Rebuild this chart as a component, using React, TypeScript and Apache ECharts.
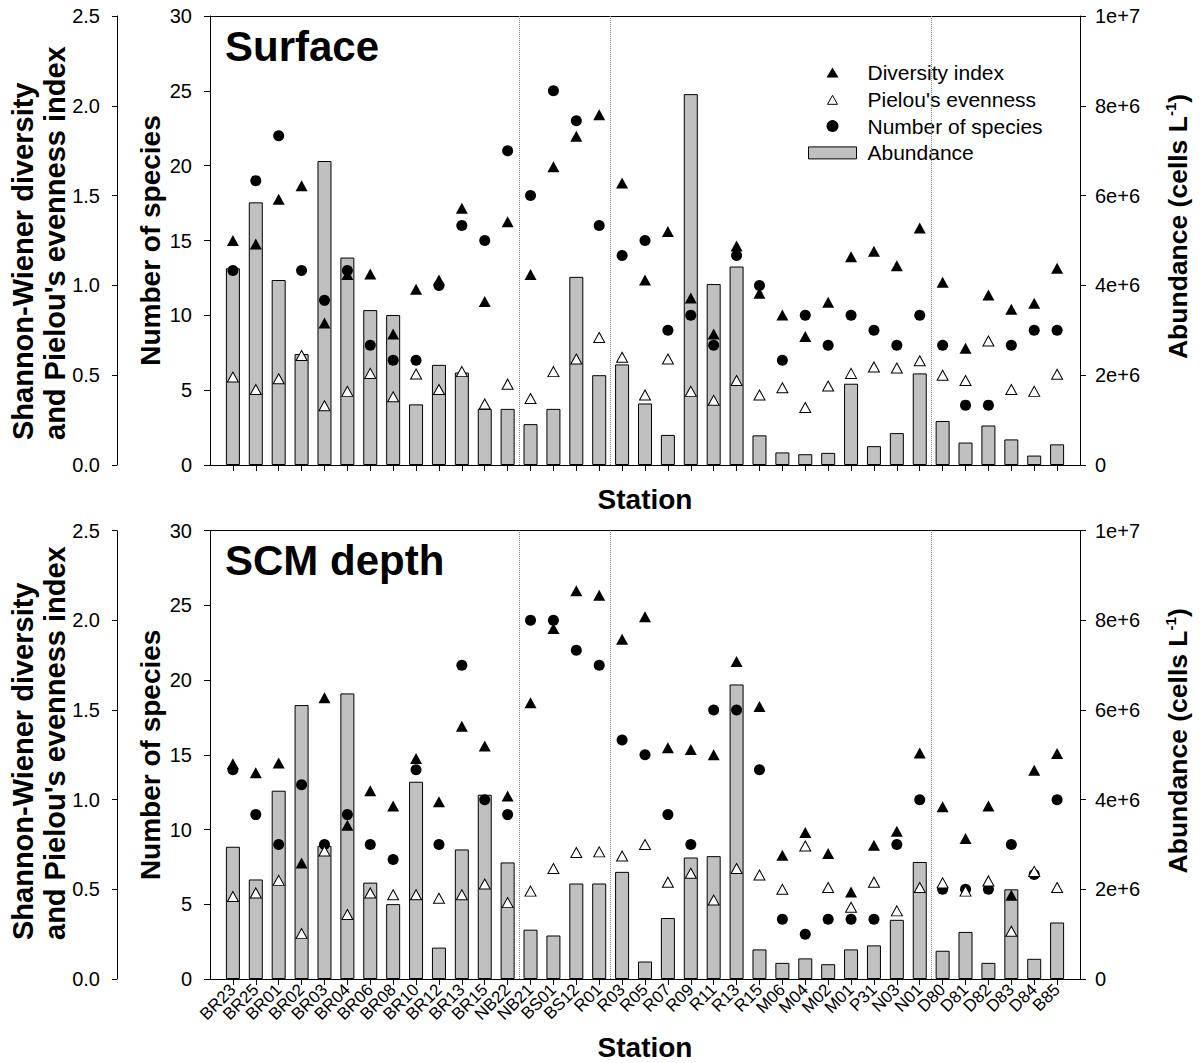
import React, { useEffect, useRef } from 'react';
import * as echarts from 'echarts';

// ---------------- data ----------------
const stations = [
  'BR23', 'BR25', 'BR01', 'BR02', 'BR03', 'BR04', 'BR06', 'BR08', 'BR10', 'BR12', 'BR13', 'BR15',
  'NB22', 'NB21', 'BS01', 'BS12', 'R01', 'R03', 'R05', 'R07', 'R09', 'R11', 'R13', 'R15',
  'M06', 'M04', 'M02', 'M01', 'P31', 'N03', 'N01', 'D80', 'D81', 'D82', 'D83', 'D84', 'B85',
];

// Surface (abundance in 1e6 cells L-1)
const surfaceAbundance = [
  4.38, 5.85, 4.12, 2.47, 6.77, 4.62, 3.45, 3.34, 1.35, 2.23, 2.06, 1.25,
  1.25, 0.91, 1.25, 4.19, 2.0, 2.24, 1.37, 0.67, 8.26, 4.03, 4.42, 0.66,
  0.28, 0.24, 0.27, 1.81, 0.42, 0.71, 2.04, 0.98, 0.5, 0.88, 0.57, 0.21, 0.46,
];
const surfaceDiversity = [
  1.25, 1.23, 1.48, 1.555, 0.79, 1.06, 1.063, 0.73, 0.978, 1.03, 1.43, 0.91,
  1.355, 1.06, 1.66, 1.83, 1.95, 1.57, 1.03, 1.3, 0.93, 0.73, 1.22, 0.956,
  0.835, 0.715, 0.906, 1.16, 1.19, 1.11, 1.32, 1.017, 0.65, 0.947, 0.867, 0.9, 1.095,
];
const surfaceEvenness = [
  0.49, 0.42, 0.48, 0.61, 0.33, 0.41, 0.51, 0.38, 0.507, 0.42, 0.52, 0.34,
  0.45, 0.37, 0.52, 0.59, 0.71, 0.6, 0.39, 0.59, 0.41, 0.36, 0.47, 0.39,
  0.43, 0.32, 0.44, 0.51, 0.546, 0.54, 0.58, 0.5, 0.47, 0.69, 0.42, 0.41, 0.505,
];
const surfaceSpecies = [
  13, 19, 22, 13, 11, 13, 8, 7, 7, 12, 16, 15,
  21, 18, 25, 23, 16, 14, 15, 9, 10, 8, 14, 12,
  7, 10, 8, 10, 9, 8, 10, 8, 4, 4, 8, 9, 9,
];

// SCM depth
const scmAbundance = [
  2.95, 2.22, 4.2, 6.11, 2.97, 6.37, 2.15, 1.67, 4.4, 0.7, 2.89, 4.11,
  2.6, 1.1, 0.97, 2.13, 2.13, 2.39, 0.39, 1.36, 2.71, 2.74, 6.57, 0.66,
  0.36, 0.46, 0.33, 0.66, 0.75, 1.32, 2.61, 0.63, 1.05, 0.36, 2.0, 0.45, 1.26,
];
const scmDiversity = [
  1.2, 1.15, 1.205, 0.647, 1.568, 0.857, 1.05, 0.965, 1.23, 0.988, 1.41, 1.3,
  1.02, 1.54, 1.955, 2.165, 2.14, 1.895, 2.02, 1.29, 1.28, 1.25, 1.77, 1.52,
  0.69, 0.817, 0.7, 0.485, 0.746, 0.824, 1.26, 0.96, 0.783, 0.965, 0.467, 1.164, 1.257,
];
const scmEvenness = [
  0.46, 0.48, 0.55, 0.253, 0.714, 0.36, 0.48, 0.47, 0.47, 0.45, 0.47, 0.53,
  0.426, 0.49, 0.616, 0.705, 0.709, 0.686, 0.75, 0.54, 0.59, 0.44, 0.616, 0.58,
  0.5, 0.742, 0.51, 0.4, 0.54, 0.38, 0.51, 0.536, 0.49, 0.547, 0.266, 0.6, 0.51,
];
const scmSpecies = [
  14, 11, 9, 13, 9, 11, 9, 8, 14, 9, 21, 12,
  11, 24, 24, 22, 21, 16, 15, 11, 9, 18, 18, 14,
  4, 3, 4, 4, 4, 9, 12, 6, 6, 6, 9, 7, 12,
];

// region separators (between NB22|NB21, R01|R03, N01|D80), in station-index units
const separators = [13.5, 17.5, 31.5];

const panelTitles = ['Surface', 'SCM depth'];
const legendNames = ['Diversity index', "Pielou's evenness", 'Number of species', 'Abundance'];

// ---------------- styling ----------------
const FONT = '"Liberation Sans", Arial, Helvetica, sans-serif';
const BLACK = '#000';
const BAR_FILL = '#c0c0c0';
const GRID_LEFT = 210;
const GRID_WIDTH = 870;

const cats = ['_s', ...stations, '_e'];
const pad = (a: number[], k = 1) => [null, ...a.map((v) => v * k), null];

const axisLine = { show: true, onZero: false, lineStyle: { color: BLACK, width: 1 } };
const tickLabel = { color: BLACK, fontSize: 20, fontFamily: FONT };
const titleText = { color: BLACK, fontSize: 28, fontWeight: 'bold' as const, fontFamily: FONT };

const panels = [
  {
    top: 16, height: 449, stationGap: 20.5, showLabels: false, titleTop: 25, outerTitleY: 440,
    ab: surfaceAbundance, dv: surfaceDiversity, ev: surfaceEvenness, sp: surfaceSpecies,
  },
  {
    top: 530.7, height: 448.3, stationGap: 54.5, showLabels: true, titleTop: 539, outerTitleY: 940,
    ab: scmAbundance, dv: scmDiversity, ev: scmEvenness, sp: scmSpecies,
  },
];

function buildOption() {
  const grid: any[] = [];
  const xAxis: any[] = [];
  const yAxis: any[] = [];
  const series: any[] = [];
  const title: any[] = [];
  const graphic: any[] = [];

  panels.forEach((pn, p) => {
    grid.push({
      left: GRID_LEFT, top: pn.top, width: GRID_WIDTH, height: pn.height,
      containLabel: false, outerBoundsMode: 'none',
    });

    xAxis.push({
      type: 'category', gridIndex: p, data: cats, boundaryGap: false, position: 'bottom',
      axisLine,
      axisTick: {
        show: true, inside: false, length: 6,
        interval: (_i: number, v: string) => !String(v).startsWith('_'),
        lineStyle: { color: BLACK, width: 1 },
      },
      axisLabel: {
        show: pn.showLabels, interval: 0, rotate: 45, margin: 8,
        fontSize: 17, color: BLACK, fontFamily: FONT,
        formatter: (v: string) => (String(v).startsWith('_') ? '' : v),
      },
      splitLine: { show: false },
      name: 'Station', nameLocation: 'middle', nameGap: pn.stationGap, nameMoveOverlap: false,
      nameTextStyle: titleText,
    });
    xAxis.push({
      type: 'value', gridIndex: p, position: 'top', min: 0, max: stations.length + 1,
      axisLine, axisTick: { show: false }, axisLabel: { show: false }, splitLine: { show: false },
    });

    yAxis.push({
      type: 'value', gridIndex: p, position: 'left', min: 0, max: 30, interval: 5,
      axisLine, axisTick: { show: true, length: 6, lineStyle: { color: BLACK } },
      axisLabel: { ...tickLabel, margin: 18 },
      splitLine: { show: false },
      name: 'Number of species', nameLocation: 'middle', nameGap: 46, nameMoveOverlap: false,
      nameTextStyle: titleText,
    });
    yAxis.push({
      type: 'value', gridIndex: p, position: 'left', offset: 93, min: 0, max: 2.5, interval: 0.5,
      axisLine, axisTick: { show: true, length: 5, lineStyle: { color: BLACK } },
      axisLabel: { ...tickLabel, margin: 17, formatter: (v: number) => v.toFixed(1) },
      splitLine: { show: false },
    });
    yAxis.push({
      type: 'value', gridIndex: p, position: 'right', min: 0, max: 1e7, interval: 2e6,
      axisLine, axisTick: { show: true, length: 6, lineStyle: { color: BLACK } },
      axisLabel: {
        ...tickLabel, margin: 15,
        formatter: (v: number) => (v === 0 ? '0' : v.toExponential()),
      },
      splitLine: { show: false },
      name: 'Abundance (cells L{sup|-1})', nameLocation: 'middle', nameGap: 83, nameMoveOverlap: false,
      nameTextStyle: {
        ...titleText, fontSize: 26.5, lineHeight: 30, padding: [0, 0, 0, 28],
        rich: {
          sup: { fontSize: 15, fontWeight: 'bold', fontFamily: FONT, color: BLACK, lineHeight: 15, verticalAlign: 'top' },
        },
      },
    });

    const xi = 2 * p;
    const yi = 3 * p;
    series.push(
      {
        type: 'bar', name: 'Abundance', xAxisIndex: xi, yAxisIndex: yi + 2,
        data: pad(pn.ab, 1e6), barWidth: 14,
        itemStyle: { color: BAR_FILL, borderColor: BLACK, borderWidth: 1, opacity: 1 },
        emphasis: { disabled: true },
      },
      {
        type: 'scatter', name: 'Diversity index', xAxisIndex: xi, yAxisIndex: yi + 1,
        data: pad(pn.dv), symbol: 'triangle', symbolSize: [12, 11],
        itemStyle: { color: BLACK, borderWidth: 0, opacity: 1 }, emphasis: { disabled: true },
      },
      {
        type: 'scatter', name: 'Number of species', xAxisIndex: xi, yAxisIndex: yi,
        data: pad(pn.sp), symbol: 'circle', symbolSize: 11,
        itemStyle: { color: BLACK, borderWidth: 0, opacity: 1 }, emphasis: { disabled: true },
      },
      {
        type: 'scatter', name: "Pielou's evenness", xAxisIndex: xi, yAxisIndex: yi + 1,
        data: pad(pn.ev), symbol: 'triangle', symbolSize: [11, 10],
        itemStyle: { color: '#fff', borderColor: BLACK, borderWidth: 1, opacity: 1 }, emphasis: { disabled: true },
      },
      {
        type: 'line', name: 'separators', xAxisIndex: xi + 1, yAxisIndex: yi, data: [],
        markLine: {
          silent: true, symbol: ['none', 'none'], label: { show: false },
          lineStyle: { type: 'dotted', color: '#808080', width: 1 },
          emphasis: { disabled: true },
          data: separators.map((x) => ({ xAxis: x })),
        },
      },
    );

    title.push({
      text: panelTitles[p], left: 225, top: pn.titleTop, padding: 0,
      textStyle: { fontSize: 42, fontWeight: 'bold', color: BLACK, fontFamily: FONT, lineHeight: 42 },
    });

    graphic.push({
      type: 'text', x: 38.5, y: pn.outerTitleY, rotation: Math.PI / 2, silent: true,
      style: {
        text: "Shannon-Wiener diversity\nand Pielou's evenness index",
        fontSize: 29, fontWeight: 'bold', fontFamily: FONT, fill: BLACK,
        align: 'left', verticalAlign: 'middle', lineHeight: 32,
      },
    });
  });

  const legend = {
    orient: 'vertical', left: 798, top: 43, padding: [19, 10, 23, 10],
    backgroundColor: '#fff', itemWidth: 60, itemHeight: 12, itemGap: 5.8,
    selectedMode: false,
    textStyle: { fontSize: 21, color: BLACK, fontFamily: FONT, lineHeight: 20 },
    data: [
      { name: legendNames[0], icon: 'path://M0,0M12,12M0,11L6,1L12,11Z', itemStyle: { color: BLACK, borderWidth: 0 } },
      { name: legendNames[1], icon: 'path://M0,0M12,12M1,11L6,2L11,11Z', itemStyle: { color: '#fff', borderColor: BLACK, borderWidth: 1 } },
      { name: legendNames[2], icon: 'circle', itemStyle: { color: BLACK, borderWidth: 0 } },
      { name: legendNames[3], icon: 'path://M0,0H48V12H0Z', itemStyle: { color: BAR_FILL, borderColor: BLACK, borderWidth: 1 } },
    ],
  };

  return {
    animation: false,
    backgroundColor: '#fff',
    textStyle: { fontFamily: FONT },
    title, grid, xAxis, yAxis, series, legend, graphic,
  };
}

export default function App() {
  const ref = useRef<HTMLDivElement>(null);
  useEffect(() => {
    if (!ref.current) return;
    const chart = echarts.init(ref.current, null, { renderer: 'svg' });
    chart.setOption(buildOption() as any);
    return () => chart.dispose();
  }, []);
  return (
    <div
      ref={ref}
      style={{ position: 'absolute', left: 0, top: 0, width: 1203, height: 1063, background: '#fff' }}
    />
  );
}
